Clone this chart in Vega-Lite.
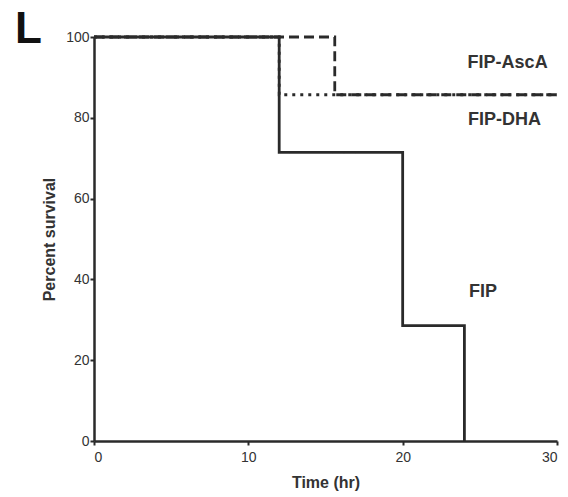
{
  "$schema": "https://vega.github.io/schema/vega-lite/v6.json",
  "width": 463,
  "height": 404,
  "autosize": "none",
  "padding": {"left": 94, "top": 37, "right": 11, "bottom": 56},
  "background": "white",
  "config": {
    "view": {"stroke": null},
    "font": "Liberation Sans",
    "axis": {
      "grid": false,
      "domainColor": "#2a2a2a",
      "domainWidth": 2.5,
      "tickColor": "#2a2a2a",
      "tickWidth": 2,
      "tickSize": 4,
      "labelFont": "Liberation Sans",
      "labelFontSize": 14,
      "labelColor": "#333",
      "titleFont": "Liberation Sans",
      "titleFontSize": 16,
      "titleFontWeight": "bold",
      "titleColor": "#333"
    }
  },
  "title": {
    "text": "L",
    "anchor": "start",
    "frame": "group",
    "fontSize": 44,
    "fontWeight": "bold",
    "font": "Liberation Sans",
    "color": "#111",
    "dx": -79,
    "dy": 22,
    "offset": 0
  },
  "datasets": {
    "curves": [
      {"series": "FIP", "time": 0, "survival": 100},
      {"series": "FIP", "time": 12, "survival": 71.43},
      {"series": "FIP", "time": 20, "survival": 28.57},
      {"series": "FIP", "time": 24, "survival": 0},
      {"series": "FIP-AscA", "time": 0, "survival": 100},
      {"series": "FIP-AscA", "time": 15.6, "survival": 85.71},
      {"series": "FIP-AscA", "time": 30, "survival": 85.71},
      {"series": "FIP-DHA", "time": 0, "survival": 100},
      {"series": "FIP-DHA", "time": 12, "survival": 85.71},
      {"series": "FIP-DHA", "time": 30, "survival": 85.71}
    ],
    "labels": [
      {"label": "FIP-AscA", "time": 26.8, "survival": 93.6},
      {"label": "FIP-DHA", "time": 26.6, "survival": 79.5},
      {"label": "FIP", "time": 25.2, "survival": 36.9}
    ]
  },
  "layer": [
    {
      "data": {"name": "curves"},
      "mark": {"type": "line", "interpolate": "step-after", "strokeWidth": 2.8, "color": "#2a2a2a"},
      "encoding": {
        "x": {"field": "time", "type": "quantitative", "scale": {"domain": [0, 30], "nice": false, "zero": true},
              "axis": {"title": "Time (hr)", "values": [0, 10, 20, 30], "labelPadding": 5, "titlePadding": 10}},
        "y": {"field": "survival", "type": "quantitative", "scale": {"domain": [0, 100], "nice": false},
              "axis": {"title": "Percent survival", "values": [0, 20, 40, 60, 80, 100], "labelPadding": 1, "titlePadding": 8}},
        "detail": {"field": "series"},
        "strokeDash": {
          "field": "series",
          "type": "nominal",
          "scale": {"domain": ["FIP", "FIP-AscA", "FIP-DHA"], "range": [[1, 0], [10, 5], [3, 5]]},
          "legend": null
        }
      }
    },
    {
      "data": {"name": "labels"},
      "mark": {"type": "text", "fontSize": 18, "fontWeight": "bold", "font": "Liberation Sans", "color": "#333", "align": "center", "baseline": "middle"},
      "encoding": {
        "x": {"field": "time", "type": "quantitative"},
        "y": {"field": "survival", "type": "quantitative"},
        "text": {"field": "label"}
      }
    }
  ]
}
